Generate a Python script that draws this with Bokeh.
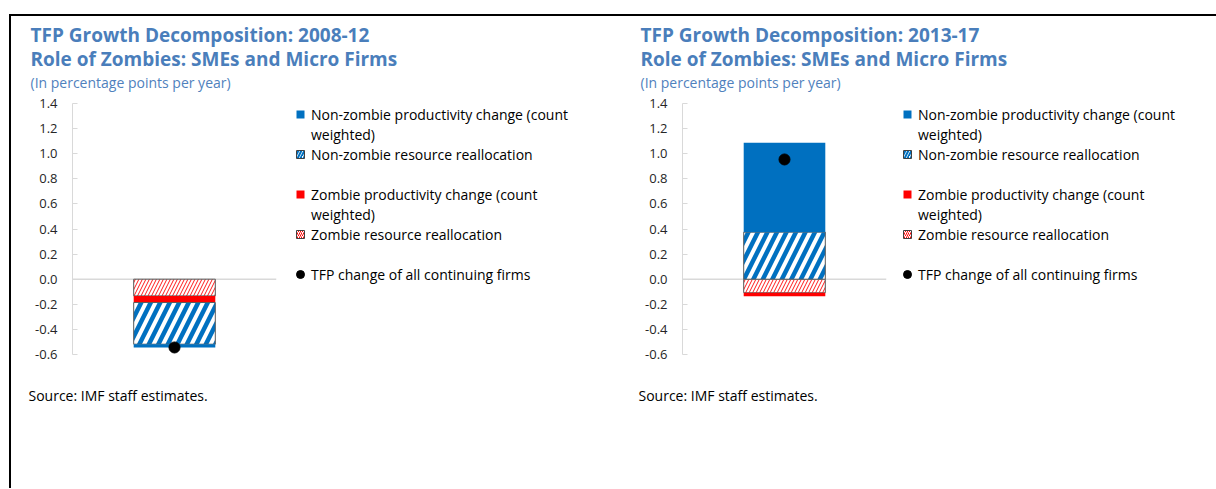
from bokeh.plotting import figure
from bokeh.models import (ColumnDataSource, Range1d, FactorRange, FixedTicker,
                          NumeralTickFormatter, Span, Legend, LegendItem, Title, Label)
from bokeh.layouts import row, column
from bokeh.embed import file_html
from bokeh.resources import INLINE

# ---------------- data ----------------
periods = ["2008-12", "2013-17"]
title_lines = ["TFP Growth Decomposition: 2008-12", "TFP Growth Decomposition: 2013-17"]
title_line2 = "Role of Zombies: SMEs and Micro Firms"
units_note = "(In percentage points per year)"
source_note = "Source: IMF staff estimates."

# stacking order (closest to zero first)
zombie_realloc = [-0.133, -0.108]
zombie_prod = [-0.053, -0.027]
nonzombie_realloc = [-0.332, 0.375]
nonzombie_prod = [-0.026, 0.712]
tfp_change = [-0.544, 0.954]

y_ticks = [-0.6, -0.4, -0.2, 0.0, 0.2, 0.4, 0.6, 0.8, 1.0, 1.2, 1.4]

legend_rows = [
    ("np", "Non-zombie productivity change (count"),
    (None, "weighted)"),
    ("nr", "Non-zombie resource reallocation"),
    (None, " "),
    ("zp", "Zombie productivity change (count"),
    (None, "weighted)"),
    ("zr", "Zombie resource reallocation"),
    (None, " "),
    ("tfp", "TFP change of all continuing firms"),
]

BLUE = "#0070C0"
RED = "#FF0000"
TITLE_BLUE = "#4A7EBB"
FONT = "Open Sans"
HEAD_H = 79
BODY_H = 393
FRAME_W = 204
FRAME_H = 251
PLOT_TOP = 8
NAN = float("nan")

bar_styles = {
    "zr": dict(fill_color="white", hatch_pattern="/", hatch_color=RED, hatch_scale=7,
               hatch_weight=0.9, line_color="#595959", line_width=1),
    "zp": dict(fill_color=RED, line_color=None),
    "nr": dict(fill_color="white", hatch_pattern="/", hatch_color=BLUE, hatch_scale=19,
               hatch_weight=4.5, line_color="#595959", line_width=1),
    "np": dict(fill_color=BLUE, line_color=None),
}
legend_styles = {
    "zr": dict(fill_color="white", hatch_pattern="/", hatch_color=RED, hatch_scale=4,
               hatch_weight=1, line_color="#404040", line_width=1),
    "zp": dict(fill_color=RED, line_color=None),
    "nr": dict(fill_color="white", hatch_pattern="/", hatch_color=BLUE, hatch_scale=6,
               hatch_weight=2, line_color="#404040", line_width=1),
    "np": dict(fill_color=BLUE, line_color=None),
    "tfp": dict(fill_color="black", line_color="black"),
}


def blank_fig(width, height, top=0):
    f = figure(width=width, height=height, x_axis_type=None, y_axis_type=None,
               title=None, output_backend="svg", toolbar_location=None,
               min_border=0, x_range=Range1d(0, 1), y_range=Range1d(0, 1))
    f.min_border_top = top
    f.outline_line_color = None
    f.background_fill_color = "white"
    f.border_fill_color = "white"
    return f


def make_head(i, width):
    h = blank_fig(width, HEAD_H)
    page_bottom = 16 + HEAD_H  # page y of the head's bottom edge
    specs = [(title_lines[i], 34, "19px", "bold", TITLE_BLUE),
             (title_line2, 58, "19px", "bold", TITLE_BLUE),
             (units_note, 82, "14px", "normal", "#4F81BD")]
    for text, baseline, size, style, color in specs:
        h.add_layout(Label(x=19, y=page_bottom - baseline, x_units="screen", y_units="screen",
                           text=text, text_font=FONT, text_font_size=size,
                           text_font_style=style, text_color=color,
                           text_baseline="alphabetic", text_align="left"))
    return h


def make_plot(i, plot_w):
    period = periods[i]
    series = [("zr", zombie_realloc[i]), ("zp", zombie_prod[i]),
              ("nr", nonzombie_realloc[i]), ("np", nonzombie_prod[i])]
    p = figure(x_range=FactorRange(factors=[period]), y_range=Range1d(y_ticks[0], y_ticks[-1]),
               width=plot_w, height=BODY_H, x_axis_type=None, title=None,
               output_backend="svg", toolbar_location=None, min_border_left=61,
               min_border_right=plot_w - 61 - FRAME_W,
               min_border_top=PLOT_TOP, min_border_bottom=BODY_H - PLOT_TOP - FRAME_H)
    p.outline_line_color = None
    p.ygrid.grid_line_color = None
    p.background_fill_color = "white"
    p.border_fill_color = "white"

    ax = p.yaxis[0]
    ax.ticker = FixedTicker(ticks=y_ticks)
    ax.formatter = NumeralTickFormatter(format="0.0")
    ax.major_tick_in = 5
    ax.major_tick_out = 0
    ax.minor_tick_in = 0
    ax.minor_tick_out = 0
    ax.axis_line_color = "#D9D9D9"
    ax.major_tick_line_color = "#D9D9D9"
    ax.major_label_standoff = 15
    ax.major_label_text_font = FONT
    ax.major_label_text_font_size = "13px"
    ax.major_label_text_color = "#262626"

    p.add_layout(Span(location=0, dimension="width", line_color="#D9D9D9", line_width=1.5,
                      level="underlay"))

    pos, neg = 0.0, 0.0
    for key, v in series:
        if v >= 0:
            b, t = pos, pos + v
            pos += v
        else:
            b, t = neg, neg + v
            neg += v
        src = ColumnDataSource(dict(x=[period], bottom=[b], top=[t]))
        p.vbar(x="x", bottom="bottom", top="top", width=0.4, source=src, **bar_styles[key])

    p.scatter(x=[period], y=[tfp_change[i]], size=11, marker="circle",
              fill_color="black", line_color="black")

    p.add_layout(Title(text=source_note, align="left", offset=-44, standoff=59,
                       text_font=FONT, text_font_size="14px", text_font_style="normal",
                       text_color="#000000"), "below")
    return p


def make_legend_fig(width):
    f = blank_fig(width, BODY_H, top=PLOT_TOP - 3)
    items = []
    for key, label in legend_rows:
        if key is None:
            r = f.scatter(x=[], y=[], marker="square", fill_alpha=0, line_alpha=0)
        else:
            # legend key only: a single undrawn (NaN) point carries the style
            r = f.scatter(x=[NAN], y=[NAN], marker="circle" if key == "tfp" else "square",
                          **legend_styles[key])
        items.append(LegendItem(label=label, renderers=[r]))
    legend = Legend(items=items, location="top_left",
                    padding=1, margin=0, spacing=0,
                    glyph_width=20, glyph_height=20, label_height=20, label_standoff=1,
                    label_text_font=FONT, label_text_font_size="14px",
                    label_text_color="#000000", background_fill_alpha=0,
                    border_line_alpha=0)
    f.add_layout(legend)
    return f


panels = []
for i, (pw, plot_w) in enumerate([(610, 278), (595, 275)]):
    head = make_head(i, pw)
    body = row(make_plot(i, plot_w), make_legend_fig(pw - plot_w))
    panels.append(column(head, body))

layout = row(*panels, styles={"border-top": "2px solid #000000",
                              "border-left": "2px solid #000000",
                              "margin-top": "14px", "margin-left": "9px"})

open("out.html", "w").write(file_html(layout, INLINE))
